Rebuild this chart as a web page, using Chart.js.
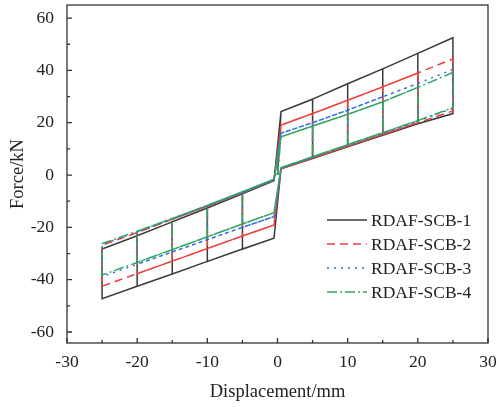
<!DOCTYPE html>
<html>
<head>
<meta charset="utf-8">
<script src="https://cdn.jsdelivr.net/npm/chart.js@4.4.1/dist/chart.umd.min.js"></script>
<style>
  html, body { margin: 0; padding: 0; background: #fff; }
</style>
</head>
<body>
<canvas id="chart" width="499" height="407"></canvas>
<script>
// vertex displacements of the loops (mm), mirrored for the negative side
const vertexDisp = [0.5, 5, 10, 15, 20, 25];

const seriesNames = ['RDAF-SCB-1', 'RDAF-SCB-2', 'RDAF-SCB-3', 'RDAF-SCB-4'];

// force (kN) read at each vertex, one row per specimen
const posUpper = [
  [24.3, 29.0, 34.9, 40.6, 46.5, 52.5],
  [19.1, 23.5, 28.6, 33.7, 39.0, 44.4],
  [16.0, 20.0, 24.8, 29.9, 35.0, 40.4],
  [14.6, 18.7, 23.2, 28.0, 33.5, 39.2]
];
const posLower = [
  [2.4, 6.3, 10.8, 15.2, 19.6, 23.5],
  [2.5, 6.5, 11.0, 15.5, 20.0, 24.5],
  [2.7, 6.8, 11.4, 16.0, 20.6, 25.5],
  [2.8, 7.0, 11.6, 16.2, 20.8, 25.8]
];
const negLower = [
  [-24.1, -28.3, -33.0, -37.8, -42.5, -47.3],
  [-19.1, -23.3, -28.1, -32.9, -37.7, -42.5],
  [-15.9, -20.0, -24.7, -29.4, -34.1, -38.8],
  [-14.4, -18.7, -23.6, -28.5, -33.4, -38.2]
];
const negUpper = [
  [-2.2, -7.2, -12.6, -17.9, -23.2, -28.3],
  [-1.9, -6.8, -11.9, -16.9, -22.0, -26.8],
  [-1.8, -6.6, -11.7, -16.7, -21.7, -26.5],
  [-1.6, -6.4, -11.6, -16.6, -21.5, -26.2]
];

const xTickLabels = [-30, -20, -10, 0, 10, 20, 30];
const xMinorTicks = [-25, -15, -5, 5, 15, 25];
const yTickLabels = [-60, -40, -20, 0, 20, 40, 60];
const yMinorTicks = [-50, -30, -10, 10, 30, 50];

const colors = ['#3a3a3a', '#ef3d3d', '#2f6fdf', '#2fa660'];
const dashes = [[], [8, 5], [2, 5], [10, 3, 2, 3]];

function buildLoop(i) {
  const d = vertexDisp;
  const pts = [{ x: 0, y: 0 }, { x: d[0], y: posUpper[i][0] }];
  for (let k = 1; k < d.length; k++) {
    for (let j = 1; j <= k; j++) pts.push({ x: d[j], y: posUpper[i][j] });
    pts.push({ x: d[k], y: posLower[i][k] });
    for (let j = k - 1; j >= 0; j--) pts.push({ x: d[j], y: posLower[i][j] });
    pts.push({ x: -d[0], y: negLower[i][0] });
    for (let j = 1; j <= k; j++) pts.push({ x: -d[j], y: negLower[i][j] });
    pts.push({ x: -d[k], y: negUpper[i][k] });
    for (let j = k - 1; j >= 0; j--) pts.push({ x: -d[j], y: negUpper[i][j] });
    pts.push({ x: d[0], y: posUpper[i][0] });
  }
  return pts;
}

const datasets = seriesNames.map((name, i) => ({
  label: name,
  data: buildLoop(i),
  showLine: true,
  borderColor: colors[i],
  borderWidth: 1.5,
  borderDash: dashes[i],
  pointRadius: 0,
  tension: 0,
  fill: false,
  order: 3 - i
}));

const serif = "'Liberation Serif', 'DejaVu Serif', serif";

const framePlugin = {
  id: 'frame',
  afterDraw(chart) {
    const { ctx, chartArea: { left, right, top, bottom }, scales: { x, y } } = chart;
    ctx.save();
    ctx.strokeStyle = '#333';
    ctx.lineWidth = 1.3;
    ctx.setLineDash([]);
    ctx.strokeRect(left, top, right - left, bottom - top);
    ctx.beginPath();
    xTickLabels.forEach(v => { const p = x.getPixelForValue(v); ctx.moveTo(p, bottom); ctx.lineTo(p, bottom - 5); });
    xMinorTicks.forEach(v => { const p = x.getPixelForValue(v); ctx.moveTo(p, bottom); ctx.lineTo(p, bottom - 3); });
    yTickLabels.forEach(v => { const p = y.getPixelForValue(v); ctx.moveTo(left, p); ctx.lineTo(left + 5, p); });
    yMinorTicks.forEach(v => { const p = y.getPixelForValue(v); ctx.moveTo(left, p); ctx.lineTo(left + 3, p); });
    ctx.stroke();

    // legend inside the plot
    const lx0 = 327, lx1 = 367, ly0 = 220, step = 24;
    ctx.font = '17.5px ' + serif;
    ctx.fillStyle = '#222';
    ctx.textBaseline = 'middle';
    chart.data.datasets.forEach((ds, i) => {
      const yy = ly0 + i * step;
      ctx.beginPath();
      ctx.strokeStyle = ds.borderColor;
      ctx.lineWidth = 1.5;
      ctx.setLineDash(ds.borderDash);
      ctx.moveTo(lx0, yy);
      ctx.lineTo(lx1, yy);
      ctx.stroke();
      ctx.setLineDash([]);
      ctx.fillText(ds.label, lx1 + 4, yy + 1);
    });
    ctx.restore();
  }
};

new Chart(document.getElementById('chart'), {
  type: 'scatter',
  data: { datasets },
  options: {
    responsive: false,
    animation: false,
    devicePixelRatio: 1,
    layout: { padding: { top: 5, right: 11, left: 0, bottom: 0 } },
    plugins: { legend: { display: false }, tooltip: { enabled: false } },
    scales: {
      x: {
        type: 'linear',
        min: -30,
        max: 30,
        afterBuildTicks: s => { s.ticks = xTickLabels.map(v => ({ value: v })); },
        afterFit: s => { s.height = 64; s.paddingLeft = 0; s.paddingRight = 0; },
        grid: { display: false, drawTicks: false },
        border: { display: false },
        ticks: { color: '#222', padding: 9, maxRotation: 0, font: { family: serif, size: 17.5 } },
        title: { display: true, text: 'Displacement/mm', color: '#222', padding: { top: 0, bottom: 4 }, font: { family: serif, size: 18.5 } }
      },
      y: {
        type: 'linear',
        min: -64.2,
        max: 65,
        afterBuildTicks: s => { s.ticks = yTickLabels.map(v => ({ value: v })); },
        afterFit: s => { s.width = 67; s.paddingTop = 0; s.paddingBottom = 0; },
        grid: { display: false, drawTicks: false },
        border: { display: false },
        ticks: { color: '#222', padding: 13, font: { family: serif, size: 17.5 } },
        title: { display: true, text: 'Force/kN', color: '#222', padding: { top: 7, bottom: 0 }, font: { family: serif, size: 18.5 } }
      }
    }
  },
  plugins: [framePlugin]
});
</script>
</body>
</html>
